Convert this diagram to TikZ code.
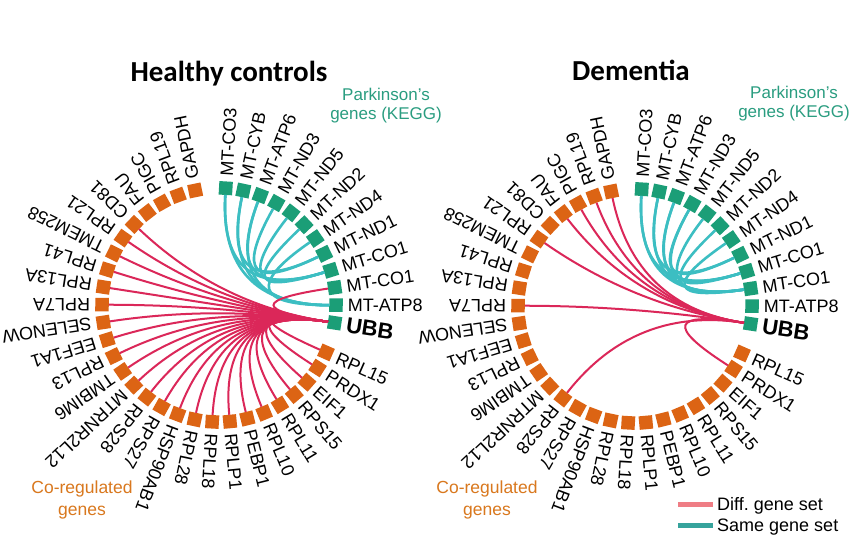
\documentclass[tikz,border=0pt]{standalone}
\usepackage{fontspec}
\setmainfont{Liberation Sans}
\newfontfamily\titlefont{Carlito}
\usetikzlibrary{calc}
\frenchspacing
\definecolor{sqorange}{HTML}{DC6414}
\definecolor{sqteal}{HTML}{1B9E77}
\definecolor{chordred}{HTML}{DB2759}
\definecolor{chordteal}{HTML}{3CBEC2}
\definecolor{txtteal}{HTML}{2A9D80}
\definecolor{txtorange}{HTML}{D9781E}
\definecolor{legpink}{HTML}{EF7D85}
\definecolor{legteal}{HTML}{36A39C}

\newcommand\drawring[3]{%
  \coordinate (#1c) at (#2,#3);
  \foreach \nm [count=\j from 0] in {MT-CO3,MT-CYB,MT-ATP6,MT-ND3,MT-ND5,MT-ND2,MT-ND4,MT-ND1,MT-CO1,MT-CO1,MT-ATP8}{%
    \pgfmathsetmacro\ang{86.7-8.68*\j}%
    \node[sqbox=sqteal,rotate=\ang] (#1t\j) at ($(#1c)+(\ang:117)$) {};%
    \node[glabel,rotate=\ang] (#1tl\j) at ($(#1c)+(\ang:129)$) {\nm};%
  }%
  \pgfmathsetmacro\ang{86.7-8.68*11}%
  \node[sqbox=sqteal,rotate=\ang] (#1t11) at ($(#1c)+(\ang:117)$) {};%
  \node[ubblabel,rotate=\ang] (#1tl11) at ($(#1c)+(\ang:129)$) {UBB};%
  \foreach \nm [count=\k from 0] in {RPL15,PRDX1,EIF1,RPS15,RPL11,RPL10,PEBP1,RPLP1,RPL18,RPL28,HSP90AB1,RPS27,RPS28,MTRNR2L12,TMBIM6,RPL13,EEF1A1,SELENOW,RPL7A,RPL13A,RPL41,TMEM258,RPL21,CD81,FAU,PIGC,RPL19,GAPDH}{%
    \pgfmathsetmacro\ang{-23.9-8.68*\k}%
    \node[sqbox=sqorange,rotate=\ang] (#1o\k) at ($(#1c)+(\ang:117)$) {};%
    \node[glabel,rotate=\ang] (#1ol\k) at ($(#1c)+(\ang:129)$) {\nm};%
  }%
}
\newcommand\linkchord[4]{%
  \draw[#1] (#2#3.west) .. controls ($(#2#3.west)!0.6667!(#2c)$) and ($(#2#4.west)!0.6667!(#2c)$) .. (#2#4.west);%
}

\begin{document}
\begin{tikzpicture}[x=1pt,y=1pt,
  sqbox/.style={fill=#1,draw=none,minimum size=13.5pt,inner sep=0pt,outer sep=0pt},
  glabel/.style={font=\fontsize{18}{18}\selectfont,inner sep=0pt,outer sep=0pt,text height=12.9pt,text depth=0pt,anchor=west},
  ubblabel/.style={font=\bfseries\fontsize{22}{22}\selectfont,inner sep=0pt,outer sep=0pt,text height=15.8pt,text depth=0pt,anchor=west},
  redch/.style={draw=chordred,line width=2pt},
  tealch/.style={draw=chordteal,line width=2.6pt},
  titletext/.style={font=\titlefont\bfseries\fontsize{29}{29}\selectfont,anchor=base,inner sep=0pt},
  kegg/.style={font=\fontsize{17}{17}\selectfont,text=txtteal,anchor=base,inner sep=0pt},
  coreg/.style={font=\fontsize{17.5}{17.5}\selectfont,text=txtorange,anchor=base,inner sep=0pt},
  legtext/.style={font=\fontsize{18}{18}\selectfont,anchor=base west,inner sep=0pt}]
\useasboundingbox[fill=white] (0,0) rectangle (852,536);

% rings
\drawring{L}{219}{231}
\drawring{R}{635}{230}

% Healthy controls chords
\foreach \t/\u in {0/10,0/8,1/7,1/10,2/8,3/7,4/8,5/8,6/10,2/10}{\linkchord{tealch}{L}{t\t}{t\u}}
\foreach \k in {0,...,23}{\linkchord{redch}{L}{t11}{o\k}}
\linkchord{redch}{L}{t11}{t9}

% Dementia chords
\foreach \t/\u in {0/9,0/8,1/9,1/7,2/8,2/9,3/8,4/9,5/8,6/9,3/7}{\linkchord{tealch}{R}{t\t}{t\u}}
\foreach \k in {1,12,18,22,24,25,26,27}{\linkchord{redch}{R}{t11}{o\k}}

% titles
\node[titletext] (title1) at (229,454) {Healthy controls};
\node[titletext] (title2) at (631,455) {Dementia};

% group labels
\node[kegg] (keggL1) at (386,435) {Parkinson’s};
\node[kegg] (keggL2) at (386,416.5) {genes (KEGG)};
\node[kegg] (keggR1) at (794,437) {Parkinson’s};
\node[kegg] (keggR2) at (794,418.5) {genes (KEGG)};
\node[coreg] (coregL1) at (82,42) {Co-regulated};
\node[coreg] (coregL2) at (82,21) {genes};
\node[coreg] (coregR1) at (487,42) {Co-regulated};
\node[coreg] (coregR2) at (487,21) {genes};

% legend
\node[legtext] (legd) at (717,25.5) {Diff. gene set};
\node[legtext] (legs) at (717,4.5) {Same gene set};
\draw[legpink,line width=5pt] (678,32) -- (713,32);
\draw[legteal,line width=5pt] (678,11) -- (713,11);
\end{tikzpicture}
\end{document}
